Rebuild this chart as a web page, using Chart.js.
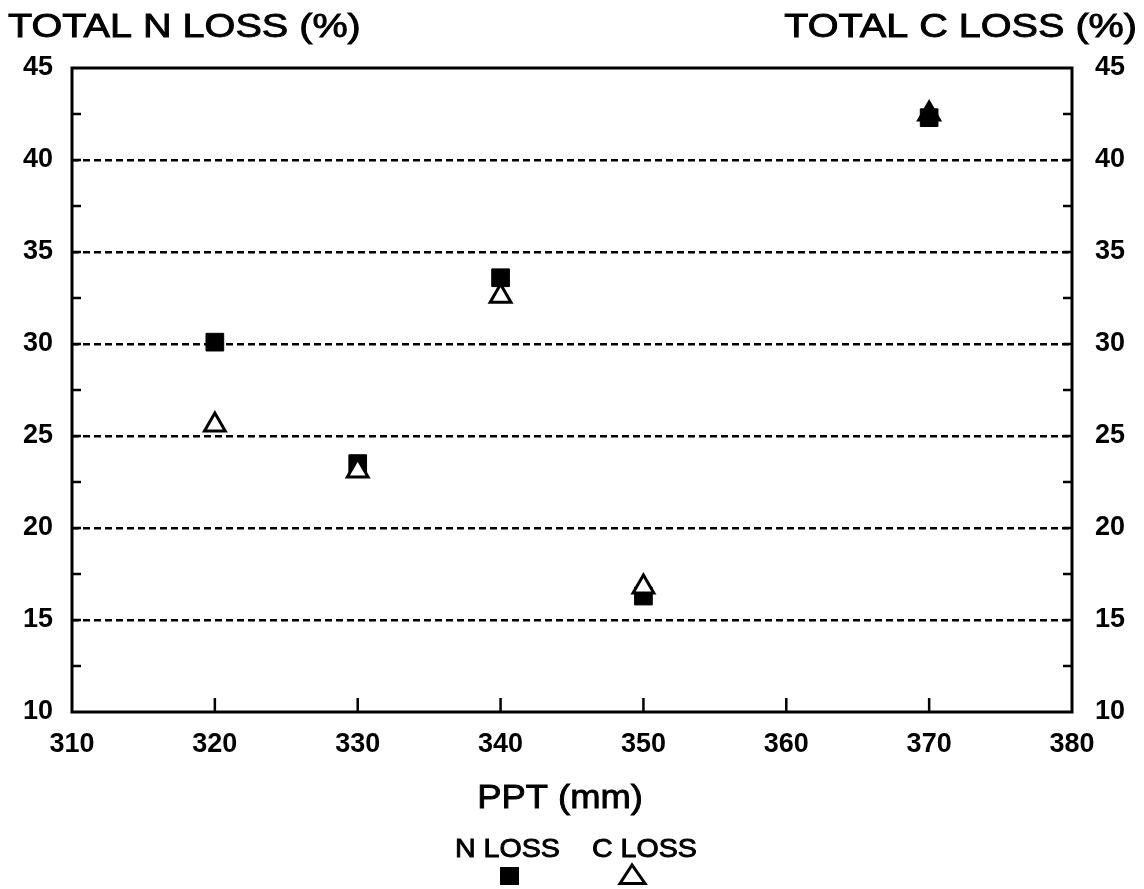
<!DOCTYPE html>
<html lang="en">
<head>
    <meta charset="UTF-8">
    <title>Total N and C loss vs PPT</title>
    <script src="https://cdn.jsdelivr.net/npm/chart.js"></script>
    <style>
        body { margin: 0; background: #fff; }
        canvas { display: block; }
    </style>
</head>
<body>
<canvas id="lossChart" width="1144" height="889"></canvas>

<script>
    // data
    const ppt = [320, 330, 340, 350, 370];
    const nLoss = [30.1, 23.5, 33.6, 16.3, 42.3];
    const cLoss = [25.6, 23.1, 32.6, 16.8, 42.5];

    // axes
    const xMin = 310, xMax = 380, xStep = 10;
    const yMin = 10, yMax = 45, yStep = 5, yMinor = 2.5;

    const FONT = '"Liberation Sans", Arial, Helvetica, sans-serif';
    Chart.defaults.font.family = FONT;
    Chart.defaults.color = '#000';

    function line(ctx, x1, y1, x2, y2) {
        ctx.beginPath();
        ctx.moveTo(x1, y1);
        ctx.lineTo(x2, y2);
        ctx.stroke();
    }

    // the scanned lettering is a bit wider and heavier than Liberation Sans
    function stretchedText(ctx, text, x, y, sx, align) {
        ctx.save();
        ctx.translate(x, y);
        ctx.scale(sx, 1);
        ctx.textAlign = align;
        ctx.textBaseline = 'alphabetic';
        ctx.lineWidth = 0.9;
        ctx.fillText(text, 0, 0);
        ctx.strokeText(text, 0, 0);
        ctx.restore();
    }

    // frame, inward ticks, titles and the legend under the axis
    const decorations = {
        id: 'decorations',
        afterDraw(chart) {
            const { ctx, chartArea: a, scales } = chart;
            ctx.save();
            ctx.strokeStyle = '#000';
            ctx.fillStyle = '#000';

            ctx.lineWidth = 2.5;
            for (let v = yMin + yMinor; v < yMax; v += yMinor) {
                const y = scales.y.getPixelForValue(v);
                line(ctx, a.left, y, a.left + 9, y);
                line(ctx, a.right - 9, y, a.right, y);
            }
            for (let v = xMin + xStep; v < xMax; v += xStep) {
                const x = scales.x.getPixelForValue(v);
                line(ctx, x, a.bottom, x, a.bottom - 14);
            }

            ctx.lineWidth = 3;
            ctx.strokeRect(a.left, a.top, a.right - a.left, a.bottom - a.top);

            ctx.font = '33px ' + FONT;
            stretchedText(ctx, 'TOTAL N LOSS (%)', 8, 37, 1.2, 'left');
            stretchedText(ctx, 'TOTAL C LOSS (%)', 1137, 37, 1.2, 'right');

            ctx.font = '34px ' + FONT;
            stretchedText(ctx, 'PPT (mm)', (a.left + a.right) / 2 - 12, 808, 1.07, 'center');

            // legend: labels with the marker underneath
            ctx.font = '26px ' + FONT;
            stretchedText(ctx, 'N LOSS', 455, 857, 1.1, 'left');
            stretchedText(ctx, 'C LOSS', 592, 857, 1.1, 'left');
            ctx.fillRect(500, 867, 19, 18);
            ctx.lineWidth = 3;
            ctx.beginPath();
            ctx.moveTo(632, 865);
            ctx.lineTo(620, 883.5);
            ctx.lineTo(645, 883.5);
            ctx.closePath();
            ctx.stroke();

            ctx.restore();
        }
    };

    const tickFont = { size: 27, weight: 'bold' };

    new Chart(document.getElementById('lossChart'), {
        type: 'scatter',
        data: {
            datasets: [
                {
                    label: 'N LOSS',
                    data: ppt.map((x, i) => ({ x: x, y: nLoss[i] })),
                    yAxisID: 'y',
                    pointStyle: 'rect',
                    pointRadius: 12.5,
                    pointBackgroundColor: '#000',
                    pointBorderColor: '#000',
                    pointBorderWidth: 1,
                    order: 1
                },
                {
                    label: 'C LOSS',
                    data: ppt.map((x, i) => ({ x: x, y: cLoss[i] })),
                    yAxisID: 'y2',
                    pointStyle: 'triangle',
                    pointRadius: 12,
                    pointBackgroundColor: ['#fff', '#fff', '#fff', '#fff', '#000'],
                    pointBorderColor: '#000',
                    pointBorderWidth: 3,
                    order: 0
                }
            ]
        },
        options: {
            responsive: false,
            animation: false,
            layout: { padding: { top: 68, left: 0, right: 0, bottom: 0 } },
            plugins: {
                legend: { display: false },
                tooltip: { enabled: false }
            },
            scales: {
                x: {
                    type: 'linear',
                    min: xMin,
                    max: xMax,
                    grid: { display: false },
                    border: { display: false },
                    ticks: { stepSize: xStep, font: tickFont, padding: 8, maxRotation: 0, autoSkip: false },
                    afterFit: s => { s.height = 177; }
                },
                y: {
                    position: 'left',
                    min: yMin,
                    max: yMax,
                    grid: {
                        drawTicks: false,
                        lineWidth: 2.5,
                        color: c => (c.tick.value === yMin || c.tick.value === yMax) ? 'rgba(0,0,0,0)' : '#000'
                    },
                    border: { display: false, dash: [7, 4] },
                    ticks: { stepSize: yStep, font: tickFont, padding: 19 },
                    afterFit: s => { s.width = 72; }
                },
                y2: {
                    position: 'right',
                    min: yMin,
                    max: yMax,
                    grid: { display: false },
                    border: { display: false },
                    ticks: { stepSize: yStep, font: tickFont, padding: 15 },
                    afterFit: s => { s.width = 72; }
                }
            }
        },
        plugins: [decorations]
    });
</script>
</body>
</html>
